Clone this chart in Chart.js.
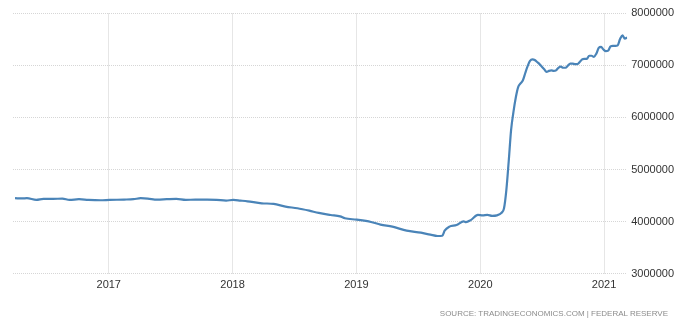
<!DOCTYPE html>
<html>
<head>
<meta charset="utf-8">
<script src="https://cdn.jsdelivr.net/npm/chart.js@4"></script>
<style>
  html, body { margin: 0; padding: 0; background: #fff; }
  #wrap { position: relative; width: 692px; height: 327px; }
  #source {
    position: absolute; right: 24px; top: 309px;
    font: 8px "Liberation Sans", Arial, sans-serif;
    letter-spacing: 0px; color: #8c8c8c; white-space: nowrap;
  }
</style>
</head>
<body>
<div id="wrap">
  <canvas id="balanceChart"></canvas>
  <div id="source">SOURCE: TRADINGECONOMICS.COM | FEDERAL RESERVE</div>
</div>
<script>
'use strict';

// weekly-ish readings of the Fed balance sheet (USD millions)
const dates = [
  '2016-03-30', '2016-04-20', '2016-05-04', '2016-06-01', '2016-06-22', '2016-07-20',
  '2016-08-17', '2016-09-07', '2016-10-05', '2016-11-02', '2016-12-07', '2017-01-04',
  '2017-02-15', '2017-03-15', '2017-04-05', '2017-04-26', '2017-05-24', '2017-06-21',
  '2017-07-19', '2017-08-16', '2017-09-13', '2017-10-18', '2017-11-15', '2017-12-13',
  '2018-01-03', '2018-01-24', '2018-02-14', '2018-03-28', '2018-05-02', '2018-06-06',
  '2018-07-11', '2018-08-15', '2018-09-12', '2018-10-17', '2018-11-14', '2018-11-28',
  '2019-01-02', '2019-02-13', '2019-03-13', '2019-04-17', '2019-05-29', '2019-07-10',
  '2019-08-07', '2019-08-28', '2019-09-11', '2019-09-18', '2019-10-02', '2019-10-23',
  '2019-11-13', '2019-11-20', '2019-12-04', '2019-12-25', '2020-01-08', '2020-01-22',
  '2020-02-05', '2020-02-19', '2020-03-04', '2020-03-11', '2020-03-18', '2020-03-25',
  '2020-04-01', '2020-04-08', '2020-04-15', '2020-04-22', '2020-04-29', '2020-05-06',
  '2020-05-13', '2020-05-20', '2020-05-27', '2020-06-03', '2020-06-10', '2020-06-17',
  '2020-06-24', '2020-07-01', '2020-07-08', '2020-07-15', '2020-07-22', '2020-07-29',
  '2020-08-05', '2020-08-12', '2020-08-19', '2020-08-26', '2020-09-02', '2020-09-09',
  '2020-09-16', '2020-09-23', '2020-09-30', '2020-10-07', '2020-10-14', '2020-10-21',
  '2020-10-28', '2020-11-04', '2020-11-11', '2020-11-18', '2020-11-25', '2020-12-02',
  '2020-12-09', '2020-12-16', '2020-12-23', '2020-12-30', '2021-01-06', '2021-01-13',
  '2021-01-20', '2021-01-27', '2021-02-03', '2021-02-10', '2021-02-17', '2021-02-24',
  '2021-03-03', '2021-03-10'
];
const balance = [
  4449000, 4445000, 4449000, 4417000, 4436000, 4436000,
  4442000, 4417000, 4430000, 4417000, 4410000, 4417000,
  4423000, 4430000, 4449000, 4442000, 4423000, 4430000,
  4436000, 4417000, 4423000, 4423000, 4417000, 4404000,
  4417000, 4404000, 4390000, 4352000, 4340000, 4288000,
  4256000, 4210000, 4167000, 4128000, 4100000, 4064000,
  4038000, 3994000, 3942000, 3904000, 3827000, 3788000,
  3750000, 3725000, 3730000, 3827000, 3904000, 3936000,
  4006000, 3990000, 4030000, 4130000, 4120000, 4130000,
  4110000, 4120000, 4170000, 4250000, 4600000, 5150000,
  5750000, 6100000, 6380000, 6580000, 6650000, 6710000,
  6850000, 6980000, 7080000, 7110000, 7100000, 7060000,
  7020000, 6970000, 6920000, 6870000, 6890000, 6900000,
  6890000, 6900000, 6950000, 6970000, 6950000, 6950000,
  6990000, 7030000, 7030000, 7020000, 7020000, 7060000,
  7110000, 7120000, 7120000, 7180000, 7180000, 7160000,
  7220000, 7330000, 7350000, 7300000, 7270000, 7280000,
  7360000, 7370000, 7370000, 7380000, 7500000, 7570000,
  7510000, 7530000
];
const yearTicks = [2017, 2018, 2019, 2020, 2021];
const valueTicks = [3000000, 4000000, 5000000, 6000000, 7000000, 8000000];

// date string -> fractional year, so a plain linear axis can be used
function toYear(s) {
  const d = Date.parse(s + 'T00:00:00Z');
  const y = new Date(d).getUTCFullYear();
  const start = Date.UTC(y, 0, 1);
  const end = Date.UTC(y + 1, 0, 1);
  return y + (d - start) / (end - start);
}

const points = dates.map((d, i) => ({ x: toYear(d), y: balance[i] }));

const fontFamily = '"Liberation Sans", Arial, sans-serif';

new Chart(document.getElementById('balanceChart'), {
  type: 'line',
  data: {
    datasets: [{
      data: points,
      borderColor: '#4a84b8',
      borderWidth: 2.2,
      pointRadius: 0,
      cubicInterpolationMode: 'monotone',
      fill: false
    }]
  },
  options: {
    responsive: true,
    maintainAspectRatio: false,
    animation: false,
    layout: { padding: { left: 13, top: 13, right: 14, bottom: 30 } },
    plugins: {
      legend: { display: false },
      tooltip: { enabled: false }
    },
    scales: {
      x: {
        type: 'linear',
        min: toYear('2016-03-24'),
        max: toYear('2021-03-10'),
        afterBuildTicks: axis => { axis.ticks = yearTicks.map(v => ({ value: v })); },
        grid: { color: '#e6e6e6', drawTicks: false },
        border: { display: false },
        ticks: {
          padding: 5,
          color: '#333',
          font: { family: fontFamily, size: 11 },
          maxRotation: 0,
          callback: v => String(v)
        }
      },
      y: {
        position: 'right',
        min: valueTicks[0],
        max: valueTicks[valueTicks.length - 1],
        afterBuildTicks: axis => { axis.ticks = valueTicks.map(v => ({ value: v })); },
        grid: { color: '#d6d6d6', drawTicks: false },
        border: { display: false, dash: [1, 1] },
        ticks: {
          padding: 4,
          color: '#333',
          font: { family: fontFamily, size: 11 },
          callback: v => String(v)
        }
      }
    }
  }
});
</script>
</body>
</html>
